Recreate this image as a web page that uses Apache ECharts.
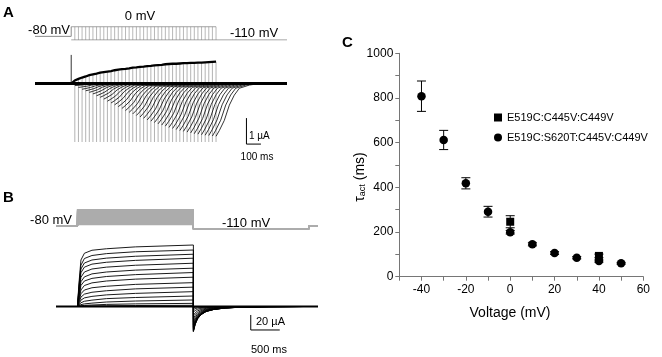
<!DOCTYPE html>
<html><head><meta charset="utf-8">
<script src="https://cdn.jsdelivr.net/npm/echarts@6/dist/echarts.min.js"></script>
<style>html,body{margin:0;padding:0;background:#fff}#c{width:662px;height:357px}</style>
</head><body><div id="c"></div>
<script>
// ===================== DATA =====================
// ---- Panel C : tau_act vs voltage ----
const voltC2 = [-40, -30, -20, -10, 0, 10, 20, 30, 40, 50];          // E519C:S620T:C445V:C449V (circles)
const tauC2  = [808, 612, 418, 291, 199, 145, 106, 85, 70, 60];
const semC2  = [68, 43, 25, 24, 8, 7, 6, 5, 5, 4];
const voltC1 = [0, 40];                                            // E519C:C445V:C449V (squares)
const tauC1  = [246, 93];
const semC1  = [27, 8];
const xTickLabelsC = [-40, -20, 0, 20, 40, 60];
const yTickLabelsC = [0, 200, 400, 600, 800, 1000];
const legendNames = ['E519C:C445V:C449V', 'E519C:S620T:C445V:C449V'];

// ---- Panel A : envelope protocol (ms, mV, µA) ----
const aHoldMv = -80, aStepMv = 0, aTailMv = -110;
const aStepStart = 250, aTraceEnd = 1740;
const aStepEnds = [275,300,325,350,375,400,425,450,475,500,525,550,575,600,625,650,675,700,725,750,
                   775,800,825,850,875,900,925,950,975,1000,1025,1050,1075,1100,1125,1150,1175,1200,1225,1250];
const aOutAtEnd = [0.12,0.18,0.23,0.27,0.32,0.35,0.38,0.42,0.44,0.46,0.48,0.51,0.53,0.55,0.56,0.58,0.61,0.62,0.64,0.65,
                   0.67,0.68,0.70,0.71,0.72,0.74,0.75,0.76,0.76,0.77,0.78,0.78,0.79,0.79,0.80,0.80,0.81,0.82,0.83,0.84];
const aTailPeak = [-0.08,-0.15,-0.22,-0.28,-0.34,-0.40,-0.47,-0.53,-0.60,-0.68,-0.75,-0.82,-0.89,-0.96,-1.04,-1.11,-1.17,-1.23,-1.29,-1.34,
                   -1.40,-1.45,-1.50,-1.55,-1.60,-1.64,-1.69,-1.73,-1.77,-1.81,-1.84,-1.87,-1.90,-1.93,-1.95,-1.97,-1.99,-2.00,-2.02,-2.03];
const aStartSpike = 1.1, aEndSpike = -2.25;
const aTailT = [0, 23, 57, 92, 126, 161, 230, 300];          // ms after step end
const aTailF = [1, 0.89, 0.70, 0.41, 0.22, 0.09, 0.03, 0];   // fraction of tail peak

// ---- Panel B : step family (ms, mV, µA) ----
const bHoldMv = -80, bTailMv = -110;
const bStepStart = 370, bStepEnd = 2370, bTailEnd = 4360, bTraceEnd = 4520;
const bStepsMv = [-70,-60,-50,-40,-30,-20,-10,0,10,20,30,40,50,60,70,80];
const bActT = [0, 25, 60, 120, 250, 500, 1000, 2000];        // ms after step start
const bAct = [
  [0, 30, 62, 71, 75, 77, 79.5, 82],
  [0, 26, 55, 64, 68, 70.5, 73, 75.3],
  [0, 23, 50, 58, 62, 64.5, 67, 69.7],
  [0, 20, 45, 52.5, 56.5, 59, 61.5, 64.4],
  [0, 17, 39, 46, 50, 52.5, 55, 57.7],
  [0, 14, 33, 39.5, 43.5, 46, 48.5, 51.1],
  [0, 12, 28, 34, 37.5, 40, 42.5, 45.3],
  [0, 9, 22, 28, 31.5, 34, 36.5, 39.1],
  [0, 7, 17, 22, 25, 27, 29.5, 31.8],
  [0, 5, 12.5, 16.5, 19, 21, 23.5, 25.8],
  [0, 3, 8.5, 11.5, 13.5, 15.5, 17.5, 19.8],
  [0, 2, 5, 7, 8.5, 10.5, 12, 14],
  [0, 1, 2.5, 3.5, 4.5, 6, 7.3, 8.7],
  [0, 0.5, 1, 1.5, 2, 2.8, 3.5, 4.2],
  [0, 0.2, 0.4, 0.6, 0.8, 1, 1.3, 1.6]
];
const bTailPeak = [-33.5,-33,-32.5,-32,-31,-30,-28.5,-26.5,-24,-20.5,-16.5,-12,-7.5,-4,-1.5];
const bTailT = [0, 30, 70, 130, 220, 350, 550, 850, 1300, 1900];
const bTailF = [1, 0.72, 0.5, 0.33, 0.2, 0.12, 0.06, 0.025, 0.008, 0];

// ===================== LAYOUT / STYLE =====================
const FONT = 'Liberation Sans, Arial, Helvetica, sans-serif';
const scaleA = {t: 1460, i: -1.33, dt: 100, di: 1};   // 100 ms, 1 µA
const scaleB = {t: 3360, i: -11.3, dt: 500, di: 20};  // 500 ms, 20 µA

// ===================== BUILD =====================
function poly(coords){ return {coords: coords}; }
function linesSeries(xi, data, color, width, z){
  return {type:'lines', coordinateSystem:'cartesian2d', xAxisIndex:xi, yAxisIndex:xi, polyline:true,
    silent:true, animation:false, z: z||2, data:data, lineStyle:{color:color, width:width, opacity:1}};
}

// Panel A protocol
const aProtoMain = [poly([[0,aHoldMv],[aStepStart,aHoldMv],[aStepStart,aStepMv],[aStepEnds[aStepEnds.length-1],aStepMv]]),
                    poly([[aStepStart,aTailMv],[aTraceEnd,aTailMv]])];
const aProtoSteps = aStepEnds.map(t => poly([[t,aStepMv],[t,aTailMv]]));
// Panel A currents
const aBase = [poly([[0,0],[aTraceEnd,0]])];
const aSpike = [poly([[aStepStart,0],[aStepStart,aStartSpike]])];
const aOut = [poly([[aStepStart,0]].concat(aStepEnds.map((t,k)=>[t,aOutAtEnd[k]])))];
const aGray = aStepEnds.map((t,k)=>poly([[t,aOutAtEnd[k]],[t,aEndSpike]]));
const aTails = aStepEnds.map((t,k)=>poly(aTailT.map((d,j)=>[t+d, aTailPeak[k]*aTailF[j]])));
const aScale = [poly([[scaleA.t, scaleA.i],[scaleA.t, scaleA.i-scaleA.di],[scaleA.t+scaleA.dt, scaleA.i-scaleA.di]])];

// Panel B protocol
const bProto = bStepsMv.map(v => poly([[0,bHoldMv],[bStepStart,bHoldMv],[bStepStart,v],[bStepEnd,v],[bStepEnd,bTailMv],[bTailEnd,bTailMv],[bTailEnd,bHoldMv],[bTraceEnd,bHoldMv]]));
// Panel B currents
const bBase = [poly([[0,0],[bTraceEnd,0]])];
const bTraces = bAct.map((row,k)=>{
  const pts = [[0,0]];
  row.forEach((v,j)=>pts.push([bStepStart+bActT[j], v]));
  bTailT.forEach((d,j)=>pts.push([bStepEnd+d, bTailPeak[k]*bTailF[j]]));
  pts.push([bTraceEnd,0]);
  return poly(pts);
});
const bScale = [poly([[scaleB.t, scaleB.i],[scaleB.t, scaleB.i-scaleB.di],[scaleB.t+scaleB.dt, scaleB.i-scaleB.di]])];

function errRender(params, api){
  const x = api.value(0), lo = api.value(1), hi = api.value(2);
  const p1 = api.coord([x, hi]), p2 = api.coord([x, lo]);
  const w = 4.5, st = {stroke:'#000', lineWidth:1};
  return {type:'group', children:[
    {type:'line', shape:{x1:p1[0],y1:p1[1],x2:p2[0],y2:p2[1]}, style:st},
    {type:'line', shape:{x1:p1[0]-w,y1:p1[1],x2:p1[0]+w,y2:p1[1]}, style:st},
    {type:'line', shape:{x1:p2[0]-w,y1:p2[1],x2:p2[0]+w,y2:p2[1]}, style:st}]};
}

const hiddenX = (min,max,gi)=>({type:'value', gridIndex:gi, min:min, max:max, show:false});
const hiddenY = (min,max,gi)=>({type:'value', gridIndex:gi, min:min, max:max, show:false});
const axisGray = '#767676';

const option = {
  animation:false,
  textStyle:{fontFamily:FONT},
  grid:[
    {left:35, width:252, top:26.7, height:13.3, outerBoundsMode:'none'},
    {left:35, width:252, top:52.3, height:93.6, outerBoundsMode:'none'},
    {left:56, width:262, top:208.7, height:21, outerBoundsMode:'none'},
    {left:56, width:262, top:239, height:97.5, outerBoundsMode:'none'},
    {left:399.3, width:244, top:53.3, height:223.4, outerBoundsMode:'none'}
  ],
  xAxis:[
    hiddenX(0,aTraceEnd,0), hiddenX(0,aTraceEnd,1), hiddenX(0,bTraceEnd,2), hiddenX(0,bTraceEnd,3),
    {type:'value', gridIndex:4, min:-50, max:60, interval:10,
      axisLine:{onZero:false, lineStyle:{color:axisGray}}, axisTick:{inside:false, length:4, lineStyle:{color:axisGray}},
      splitLine:{show:false},
      axisLabel:{color:'#000', fontSize:12, fontFamily:FONT, margin:7,
        formatter:v=> xTickLabelsC.indexOf(v)>=0 ? String(v) : ''}}
  ],
  yAxis:[
    hiddenY(-110,0,0), hiddenY(-2.4,1.2,1), hiddenY(-120,90,2), hiddenY(-40,90,3),
    {type:'value', gridIndex:4, min:0, max:1000, interval:100,
      axisLine:{show:true, onZero:false, lineStyle:{color:axisGray}}, axisTick:{show:true, inside:false, length:4, lineStyle:{color:axisGray}},
      splitLine:{show:false},
      axisLabel:{color:'#000', fontSize:12, fontFamily:FONT, margin:6,
        formatter:v=> yTickLabelsC.indexOf(v)>=0 ? String(v) : ''}}
  ],
  legend:{orient:'vertical', left:489, top:107, itemWidth:8, itemHeight:8, itemGap:9,
    textStyle:{fontSize:11, color:'#000', fontFamily:FONT},
    selectedMode:false,
    data:[{name:legendNames[0], icon:'rect', itemStyle:{color:'#000', opacity:1}},
          {name:legendNames[1], icon:'circle', itemStyle:{color:'#000', opacity:1}}]},
  series:[
    // Panel A
    linesSeries(0, aProtoSteps, '#a6a6a6', 0.8),
    linesSeries(0, aProtoMain, '#8a8a8a', 1),
    linesSeries(1, aGray, '#a0a0a0', 0.8, 1),
    linesSeries(1, aTails, '#000', 0.8, 2),
    linesSeries(1, aBase, '#000', 3, 3),
    linesSeries(1, aSpike, '#000', 0.8, 3),
    linesSeries(1, aOut, '#000', 2.3, 3),
    linesSeries(1, aScale, '#000', 1, 3),
    // Panel B
    linesSeries(2, bProto, '#acacac', 1.3),
    linesSeries(3, bBase, '#000', 2, 3),
    linesSeries(3, bTraces, '#000', 0.9, 2),
    linesSeries(3, bScale, '#000', 1, 3),
    // Panel C
    {type:'custom', name:'errC1', xAxisIndex:4, yAxisIndex:4, renderItem:errRender, silent:true, z:3,
      encode:{x:0, y:[1,2]}, data: voltC1.map((v,i)=>[v, tauC1[i]-semC1[i], tauC1[i]+semC1[i]])},
    {type:'custom', name:'errC2', xAxisIndex:4, yAxisIndex:4, renderItem:errRender, silent:true, z:3,
      encode:{x:0, y:[1,2]}, data: voltC2.map((v,i)=>[v, tauC2[i]-semC2[i], tauC2[i]+semC2[i]])},
    {type:'scatter', name:legendNames[0], xAxisIndex:4, yAxisIndex:4, symbol:'rect', symbolSize:8, z:4,
      itemStyle:{color:'#000', opacity:1}, data: voltC1.map((v,i)=>[v, tauC1[i]])},
    {type:'scatter', name:legendNames[1], xAxisIndex:4, yAxisIndex:4, symbol:'circle', symbolSize:8.5, z:5,
      itemStyle:{color:'#000', opacity:1}, data: voltC2.map((v,i)=>[v, tauC2[i]])}
  ],
  graphic:[
    {type:'text', x:3, y:5, style:{text:'A', font:'bold 15px '+FONT, fill:'#000'}},
    {type:'text', x:3, y:190, style:{text:'B', font:'bold 15px '+FONT, fill:'#000'}},
    {type:'text', x:342, y:35, style:{text:'C', font:'bold 15px '+FONT, fill:'#000'}},
    {type:'text', x:70, y:30, style:{text:'-80 mV', font:'13px '+FONT, fill:'#000', align:'right', verticalAlign:'middle'}},
    {type:'text', x:140, y:16, style:{text:'0 mV', font:'13px '+FONT, fill:'#000', align:'center', verticalAlign:'middle'}},
    {type:'text', x:230, y:33, style:{text:'-110 mV', font:'13px '+FONT, fill:'#000', align:'left', verticalAlign:'middle'}},
    {type:'text', x:249, y:136.5, style:{text:'1 µA', font:'10px '+FONT, fill:'#000', align:'left', verticalAlign:'middle'}},
    {type:'text', x:257, y:157, style:{text:'100 ms', font:'10px '+FONT, fill:'#000', align:'center', verticalAlign:'middle'}},
    {type:'text', x:72, y:220, style:{text:'-80 mV', font:'13px '+FONT, fill:'#000', align:'right', verticalAlign:'middle'}},
    {type:'text', x:222, y:223, style:{text:'-110 mV', font:'13px '+FONT, fill:'#000', align:'left', verticalAlign:'middle'}},
    {type:'text', x:256, y:322, style:{text:'20 µA', font:'11px '+FONT, fill:'#000', align:'left', verticalAlign:'middle'}},
    {type:'text', x:269, y:350, style:{text:'500 ms', font:'11px '+FONT, fill:'#000', align:'center', verticalAlign:'middle'}},
    {type:'text', x:510, y:313, style:{text:'Voltage (mV)', font:'14px '+FONT, fill:'#000', align:'center', verticalAlign:'middle'}},
    {type:'text', x:360, y:177, rotation:Math.PI/2,
      style:{text:'{a|τ}{b|act}{a| (ms)}', align:'center', verticalAlign:'middle', fill:'#000',
        rich:{a:{fontSize:14, fontFamily:FONT, fill:'#000'}, b:{fontSize:9, fontFamily:FONT, fill:'#000', padding:[6,0,0,0]}}}}
  ]
};
const chart = echarts.init(document.getElementById('c'), null, {renderer:'canvas'});
chart.setOption(option);
</script></body></html>
